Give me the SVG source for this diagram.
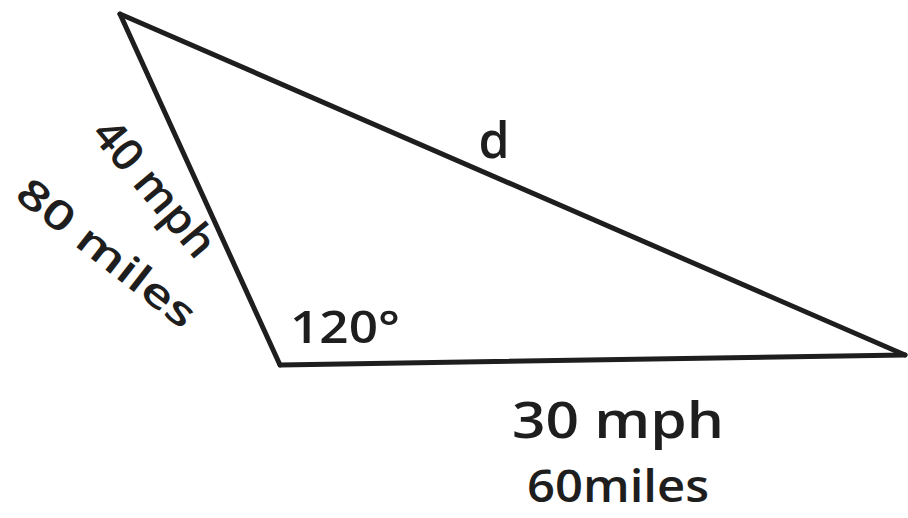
<svg xmlns="http://www.w3.org/2000/svg" width="908" height="518" viewBox="0 0 908 518">
<style>
.edge{fill:none;stroke:#1e1e1e;stroke-width:5;stroke-linecap:round;stroke-linejoin:round}
.lbl{font-family:"Open Sans","Liberation Sans",sans-serif;fill:#1e1e1e;font-weight:600}
</style>
<rect width="908" height="518" fill="#ffffff"/>
<g id="connectors">
<path class="edge" d="M120,14 L280,365"/>
<path class="edge" d="M280,365 L905,355"/>
<path class="edge" d="M120,14 L905,355"/>
</g>
<g id="label-d"><text class="lbl" x="494" y="158" font-size="50" text-anchor="middle">d</text></g>
<g id="label-40mph"><text class="lbl" font-size="44" text-anchor="middle" transform="translate(143,198) rotate(50)" textLength="165" lengthAdjust="spacingAndGlyphs">40 mph</text></g>
<g id="label-80miles"><text class="lbl" font-size="40" text-anchor="middle" transform="translate(98,264) rotate(38)" textLength="215" lengthAdjust="spacingAndGlyphs">80 miles</text></g>
<g id="label-120"><text class="lbl" x="290" y="343" font-size="46" textLength="110" lengthAdjust="spacingAndGlyphs">120°</text></g>
<g id="label-30mph"><text class="lbl" x="512" y="438" font-size="50" textLength="212" lengthAdjust="spacingAndGlyphs">30 mph</text></g>
<g id="label-60miles"><text class="lbl" x="527" y="502" font-size="46" textLength="182" lengthAdjust="spacingAndGlyphs">60miles</text></g>
</svg>
